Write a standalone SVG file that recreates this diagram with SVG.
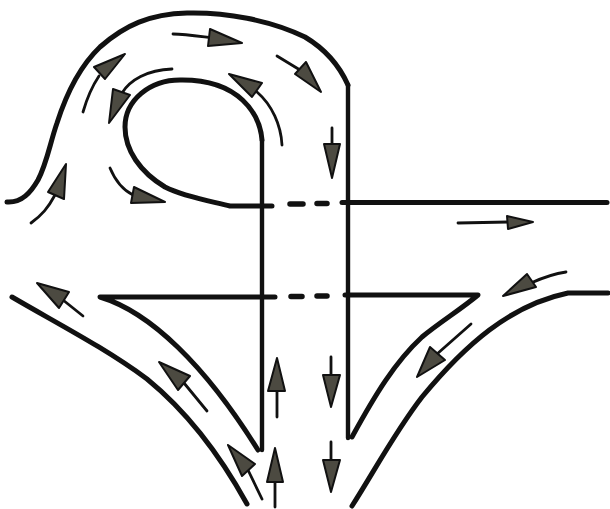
<svg xmlns="http://www.w3.org/2000/svg" width="610" height="509" viewBox="0 0 610 509">
<style>
.road{fill:none;stroke:#111;stroke-width:5;stroke-linecap:round;stroke-linejoin:round}
.thin{stroke-width:4.400}
.dash{fill:none;stroke:#111;stroke-width:5.500;stroke-linecap:round}
.tail{fill:none;stroke:#111;stroke-width:2.800;stroke-linecap:round}
.head{fill:#4c4a41;stroke:#111;stroke-width:2;stroke-linejoin:round}
</style>
<rect width="610" height="509" fill="#fff"/>
<g id="roads">
<path class="road" d="M7 202C22 203 31 192 38 180C47 163 50 143 57 123C65 98 78 68 100 47C125 25 150 14 187 13C225 12 270 20 305 37C325 49 340 67 348 85"/>
<path class="road thin" d="M348 85V438"/>
<path class="road thin" d="M262 450V140"/>
<path class="road" d="M262 140C260 115 240 79 180 80C150 80 125 100 125 127C125 150 140 172 165 187C185 197 210 201 230 206H272"/>
<path class="road" d="M342 202.500H607"/>
<path class="road" d="M275 297H100C150 312 205 365 258 450"/>
<path class="road" d="M345 295H478C460 310 440 322 422 337C395 362 375 395 352 437"/>
<path class="road" d="M608 293H568C510 305 465 345 422 397C395 432 375 470 352 506"/>
<path class="road" d="M12 297C60 325 105 348 147 379C185 410 220 455 247 504"/>
</g>
<g id="dashes">
<path class="dash" d="M290 204H303M317 203.500H327M291 296.500H302M317 296H327"/>
</g>
<g id="arrows">
<path class="tail" d="M173 34C185 34 197 36 212 38"/><path class="head" d="M242 43L210 29L208 46Z"/>
<path class="tail" d="M277 56L300 70"/><path class="head" d="M321 92L306 62L295 74Z"/>
<path class="tail" d="M332 128V146"/><path class="head" d="M332 178L324 144H340Z"/>
<path class="tail" d="M458 223L508 222"/><path class="head" d="M533 222L507 216L508 229Z"/>
<path class="tail" d="M83 112C87 98 91 88 99 76"/><path class="head" d="M125 54L94 67L105 79Z"/>
<path class="tail" d="M172 69C147 70 130 80 122 93"/><path class="head" d="M109 123L113 89L130 95Z"/>
<path class="tail" d="M282 145C281 125 272 105 257 92"/><path class="head" d="M229 74L262 83L252 97Z"/>
<path class="tail" d="M110 168C115 180 123 190 133 195"/><path class="head" d="M165 202L134 187L131 203Z"/>
<path class="tail" d="M31 223C42 215 48 208 55 195"/><path class="head" d="M66 164L48 192L64 199Z"/>
<path class="tail" d="M83 316L63 300"/><path class="head" d="M37 283L69 292L59 308Z"/>
<path class="tail" d="M207 411L184 383"/><path class="head" d="M159 362L190 376L178 390Z"/>
<path class="tail" d="M262 499L248 470"/><path class="head" d="M228 445L255 464L242 476Z"/>
<path class="tail" d="M277 417V391"/><path class="head" d="M277 358L268 391H285Z"/>
<path class="tail" d="M275 507V482"/><path class="head" d="M275 448L267 482H283Z"/>
<path class="tail" d="M566 272C552 274 542 278 531 283"/><path class="head" d="M503 296L527 274L536 287Z"/>
<path class="tail" d="M471 324L437 354"/><path class="head" d="M417 377L430 347L445 360Z"/>
<path class="tail" d="M331 357V376"/><path class="head" d="M331 407L323 375H340Z"/>
<path class="tail" d="M331 442V461"/><path class="head" d="M331 492L323 460H340Z"/>
</g>
</svg>
